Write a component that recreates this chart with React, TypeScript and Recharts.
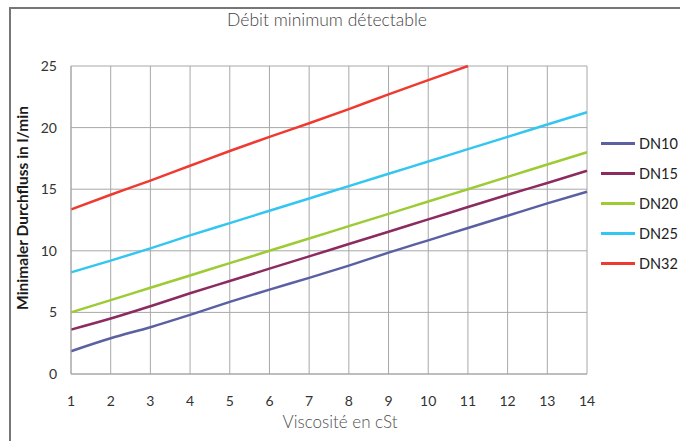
import React from 'react';
import { LineChart, Line, XAxis, YAxis, CartesianGrid } from 'recharts';

const viscosity = [1, 2, 3, 4, 5, 6, 7, 8, 9, 10, 11, 12, 13, 14];
const dn10 = [1.85, 2.9, 3.8, 4.8, 5.85, 6.85, 7.8, 8.8, 9.85, 10.85, 11.85, 12.85, 13.85, 14.8];
const dn15 = [3.6, 4.5, 5.5, 6.55, 7.55, 8.55, 9.55, 10.55, 11.55, 12.55, 13.55, 14.55, 15.5, 16.5];
const dn20 = [5, 6, 7, 8, 9, 10, 11, 12, 13, 14, 15, 16, 17, 18];
const dn25 = [8.25, 9.2, 10.2, 11.25, 12.25, 13.25, 14.25, 15.25, 16.25, 17.25, 18.25, 19.25, 20.25, 21.25];
const dn32 = [13.35, 14.55, 15.7, 16.9, 18.1, 19.25, 20.35, 21.5, 22.7, 23.85, 25, null, null, null];
const yTicks = [0, 5, 10, 15, 20, 25];

const SERIES = [
  { key: 'DN10', values: dn10, color: '#5b60a3' },
  { key: 'DN15', values: dn15, color: '#8c2b60' },
  { key: 'DN20', values: dn20, color: '#9ccb34' },
  { key: 'DN25', values: dn25, color: '#33c6f0' },
  { key: 'DN32', values: dn32, color: '#ee3a30' },
];

const data = viscosity.map((v, i) => {
  const row: any = { v };
  SERIES.forEach((s) => {
    row[s.key] = s.values[i];
  });
  return row;
});

const FONT = 'Lato, "Open Sans", sans-serif';

const YLabel = () => {
  const cx = 22;
  const cy = 208;
  return (
    <text
      x={cx}
      y={cy}
      transform={`rotate(-90, ${cx}, ${cy})`}
      textAnchor="middle"
      dominantBaseline="central"
      fontFamily={FONT}
      fontWeight={700}
      fontSize={15.5}
      fill="#1a1a1a"
    >
      Minimaler Durchfluss in l/min
    </text>
  );
};

const XLabel = () => (
  <text x={340} y={428} textAnchor="middle" fontFamily={FONT} fontWeight={300} fontSize={17} fill="#4f4f4f">
    Viscosité en cSt
  </text>
);

const App = () => {
  return (
    <div style={{ position: 'absolute', left: 0, top: 0, width: 680, height: 441, background: '#fff', fontFamily: FONT }}>
      <div
        style={{
          position: 'absolute',
          left: 9,
          top: 7,
          width: 680,
          height: 441,
          borderTop: '2px solid #767676',
          borderLeft: '2px solid #767676',
        }}
      />
      <div
        style={{
          position: 'absolute',
          left: 0,
          width: 654,
          top: 9,
          textAlign: 'center',
          fontSize: 17.5,
          fontWeight: 300,
          color: '#444',
        }}
      >
        Débit minimum détectable
      </div>
      <div style={{ position: 'absolute', left: 0, top: 0 }}>
        <LineChart width={680} height={441} data={data} margin={{ top: 66, right: 93, bottom: 0, left: 9 }}>
          <CartesianGrid stroke="#a8a8a8" strokeWidth={1} />
          <XAxis
            dataKey="v"
            type="number"
            domain={[1, 14]}
            ticks={viscosity}
            height={67}
            tickLine={false}
            axisLine={{ stroke: '#a8a8a8' }}
            tickSize={6}
            tickMargin={16}
            tick={{ fill: '#333', fontSize: 14, fontFamily: FONT }}
            label={<XLabel />}
          />
          <YAxis
            type="number"
            domain={[0, 25]}
            ticks={yTicks}
            width={62}
            tickLine={false}
            axisLine={{ stroke: '#a8a8a8' }}
            tickSize={6}
            tickMargin={8}
            tick={{ fill: '#333', fontSize: 14, fontFamily: FONT }}
            label={<YLabel />}
          />
          {SERIES.map((s) => (
            <Line
              key={s.key}
              type="monotone"
              dataKey={s.key}
              stroke={s.color}
              strokeWidth={2.5}
              dot={false}
              isAnimationActive={false}
            />
          ))}
        </LineChart>
      </div>
      {SERIES.map((s, i) => (
        <div
          key={s.key}
          style={{
            position: 'absolute',
            left: 601,
            top: 143 + i * 30.2 - 9,
            height: 18,
            display: 'flex',
            alignItems: 'center',
          }}
        >
          <div style={{ width: 34, height: 3, background: s.color }} />
          <span style={{ marginLeft: 4, fontSize: 14.5, color: '#222' }}>{s.key}</span>
        </div>
      ))}
    </div>
  );
};

export default App;
